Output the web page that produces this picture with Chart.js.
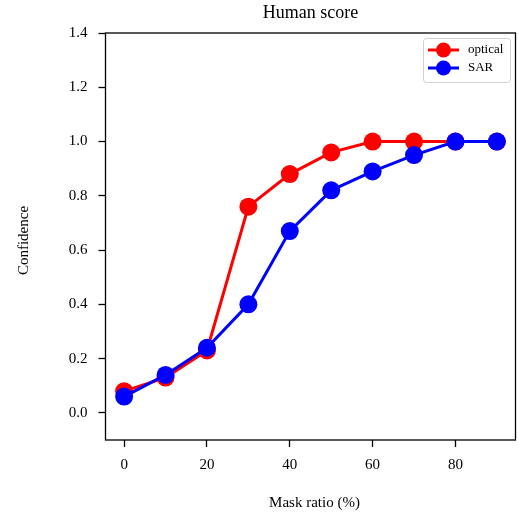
<!DOCTYPE html>
<html lang="en">
  <head>
    <meta charset="UTF-8" />
    <title>Human score</title>
    <script src="https://cdn.jsdelivr.net/npm/chart.js"></script>
    <style>
      html, body { margin: 0; padding: 0; background: #fff; }
      .wrap { width: 518px; height: 515px; }
    </style>
  </head>
  <body>
    <div class="wrap">
      <canvas id="myChart" width="518" height="515"></canvas>
    </div>
  </body>
</html>

<script>
  // mask ratio (%)
  const maskRatio = [0, 10, 20, 30, 40, 50, 60, 70, 80, 90];
  const optical = [0.08, 0.13, 0.23, 0.76, 0.88, 0.96, 1.0, 1.0, 1.0, 1.0];
  const sar = [0.06, 0.14, 0.24, 0.4, 0.67, 0.82, 0.89, 0.95, 1.0, 1.0];

  const xTicks = [0, 20, 40, 60, 80];
  const yTicks = [0, 0.2, 0.4, 0.6, 0.8, 1.0, 1.2, 1.4];

  const serif = '"Liberation Serif", "Times New Roman", serif';

  function toPoints(ys) {
    return maskRatio.map((x, i) => ({ x: x, y: ys[i] }));
  }

  // title, axis labels, frame and legend box like matplotlib
  const decor = {
    id: "decor",
    afterDraw(chart) {
      const ctx = chart.ctx;
      const a = chart.chartArea;
      const midX = (a.left + a.right) / 2;
      ctx.save();
      ctx.fillStyle = "#000";
      ctx.textAlign = "center";
      ctx.textBaseline = "middle";

      ctx.font = "18px " + serif;
      ctx.fillText("Human score", midX, 13);

      ctx.font = "15px " + serif;
      ctx.fillText("Mask ratio (%)", midX + 4, 503);

      ctx.save();
      ctx.translate(24, (a.top + a.bottom) / 2 + 4);
      ctx.rotate(-Math.PI / 2);
      ctx.fillText("Confidence", 0, 0);
      ctx.restore();

      // frame
      ctx.strokeStyle = "#000";
      ctx.lineWidth = 1.3;
      ctx.strokeRect(a.left, a.top, a.right - a.left, a.bottom - a.top);

      // legend
      const lx = 423, ly = 38, lw = 87, lh = 44;
      ctx.fillStyle = "rgba(255,255,255,0.8)";
      ctx.strokeStyle = "#d0d0d0";
      ctx.lineWidth = 1;
      ctx.beginPath();
      ctx.roundRect(lx + 0.5, ly + 0.5, lw, lh, 3);
      ctx.fill();
      ctx.stroke();

      const items = [
        { label: "optical", color: "#ff0000", y: 50 },
        { label: "SAR", color: "#0000ff", y: 68 },
      ];
      items.forEach((it) => {
        ctx.strokeStyle = it.color;
        ctx.fillStyle = it.color;
        ctx.lineWidth = 3;
        ctx.beginPath();
        ctx.moveTo(428, it.y);
        ctx.lineTo(459, it.y);
        ctx.stroke();
        ctx.beginPath();
        ctx.arc(443.5, it.y, 7.5, 0, Math.PI * 2);
        ctx.fill();
        ctx.fillStyle = "#000";
        ctx.textAlign = "left";
        ctx.font = "13px " + serif;
        ctx.fillText(it.label, 468, it.y);
      });
      ctx.restore();
    },
  };

  let ctx = document.getElementById("myChart");

  let chart = new Chart(ctx, {
    type: "line",
    data: {
      datasets: [
        {
          label: "optical",
          data: toPoints(optical),
          borderColor: "#ff0000",
          backgroundColor: "#ff0000",
          borderWidth: 3,
          pointRadius: 9,
          pointBorderWidth: 0,
          order: 2,
        },
        {
          label: "SAR",
          data: toPoints(sar),
          borderColor: "#0000ff",
          backgroundColor: "#0000ff",
          borderWidth: 3,
          pointRadius: 9,
          pointBorderWidth: 0,
          order: 1,
        },
      ],
    },
    options: {
      responsive: false,
      animation: false,
      layout: {
        autoPadding: false,
        padding: { top: 33, right: 2.5, bottom: 0, left: 0 },
      },
      plugins: {
        legend: { display: false },
        title: { display: false },
        tooltip: { enabled: false },
      },
      scales: {
        x: {
          type: "linear",
          min: -4.5,
          max: 94.5,
          afterBuildTicks: (s) => {
            s.ticks = xTicks.map((v) => ({ value: v }));
          },
          afterFit: (s) => {
            s.height = 75;
          },
          grid: {
            drawOnChartArea: false,
            drawTicks: true,
            tickLength: 7,
            tickWidth: 1.3,
            tickColor: "#000",
          },
          border: { display: false },
          ticks: {
            autoSkip: false,
            maxRotation: 0,
            padding: 9,
            color: "#000",
            font: { family: serif, size: 15 },
          },
        },
        y: {
          min: -0.1,
          max: 1.4,
          afterBuildTicks: (s) => {
            s.ticks = yTicks.map((v) => ({ value: v }));
          },
          afterFit: (s) => {
            s.width = 105.5;
          },
          grid: {
            drawOnChartArea: false,
            drawTicks: true,
            tickLength: 7,
            tickWidth: 1.3,
            tickColor: "#000",
          },
          border: { display: false },
          ticks: {
            autoSkip: false,
            padding: 11,
            color: "#000",
            font: { family: serif, size: 15 },
            callback: (v) => v.toFixed(1),
          },
        },
      },
    },
    plugins: [decor],
  });
</script>
